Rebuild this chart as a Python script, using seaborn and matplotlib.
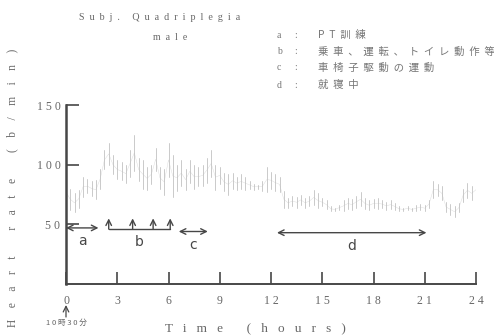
import numpy as np
import pandas as pd
import matplotlib.pyplot as plt
import seaborn as sns

# =========================
# DADOS
# =========================

step_hours = 0.25

hr_low = [70, 62, 60, 64, 73, 76, 74, 71,
          80, 96, 100, 92, 88, 87, 85, 90,
          95, 86, 80, 79, 84, 95, 80, 75,
          90, 73, 78, 82, 79, 85, 80, 82,
          82, 85, 90, 79, 84, 78, 75, 80,
          79, 80, 79, 80, 79, 80, 78, 77,
          80, 78, 77, 64, 64, 65, 64, 66,
          64, 65, 66, 64, 65, 63, 61, 61,
          62, 61, 63, 62, 64, 65, 63, 62,
          64, 63, 64, 62, 63, 62, 61, 61,
          62, 61, 61, 62, 61, 64, 72, 74,
          70, 60, 58, 56, 60, 69, 72, 70,
          74]

hr_high = [84, 80, 76, 79, 90, 88, 86, 87,
           96, 112, 118, 108, 104, 102, 100, 112,
           125, 106, 104, 98, 100, 114, 98, 96,
           118, 108, 100, 104, 96, 104, 100, 98,
           100, 106, 112, 100, 98, 93, 92, 93,
           90, 92, 90, 86, 84, 83, 86, 98,
           94, 92, 90, 78, 72, 74, 73, 75,
           72, 74, 79, 76, 72, 70, 65, 64,
           66, 70, 72, 71, 74, 77, 72, 70,
           71, 72, 70, 69, 70, 68, 65, 64,
           65, 64, 66, 67, 66, 70, 86, 84,
           82, 69, 67, 65, 68, 80, 85, 82,
           84]

x_ticks = [0, 3, 6, 9, 12, 15, 18, 21, 24]
x_tick_labels = ["0", "3", "6", "9", "1 2", "1 5", "1 8", "2 1", "2 4"]
y_ticks = [50, 100, 150]
y_tick_labels = ["5 0", "1 0 0", "1 5 0"]

activity_keys = ["a", "b", "c", "d"]
activity_text = ["PT訓練", "乗車、運転、トイレ動作等", "車椅子駆動の運動", "就寝中"]
activity_start = [0, 2.5, 6.6, 12.35]
activity_end = [1.9, 6.1, 8.3, 21.1]
b_marks = [2.5, 3.9, 5.1, 6.1]

hours = np.arange(len(hr_low)) * step_hours
df = pd.DataFrame({
    "hour": np.concatenate([hours, hours]),
    "hr": hr_low + hr_high,
})


def spaced(s, sep=" "):
    return sep.join(list(s))


# =========================
# FIGURA
# =========================

sns.set_style("white")
plt.rcParams["font.family"] = ["Liberation Serif", "Noto Sans CJK JP", "DejaVu Sans"]

W, H = 494, 336
fig = plt.figure(figsize=(W / 100, H / 100), dpi=100)
ax = fig.add_axes([66 / W, 1 - 284 / H, 410 / W, 179 / H])

ink = "#474747"

sns.lineplot(
    data=df, x="hour", y="hr",
    estimator="mean", errorbar=("pi", 100), err_style="bars",
    color="#d0d0d0", linewidth=0.3, alpha=0.8,
    err_kws={"elinewidth": 0.7, "ecolor": "#bdbdbd"},
    ax=ax,
)

ax.set_xlim(0, 24)
ax.set_ylim(0, 150)
ax.set_xticks(x_ticks)
ax.set_xticklabels(x_tick_labels)
ax.set_yticks(y_ticks)
ax.set_yticklabels(y_tick_labels)
ax.tick_params(axis="x", bottom=True, direction="in", length=9, width=1.2,
               color=ink, labelsize=8.5, labelcolor="#666", pad=8)
ax.tick_params(axis="y", left=True, direction="in", length=9, width=1.2,
               color=ink, labelsize=8.5, labelcolor="#666", pad=4)
ax.set_xlabel("")
ax.set_ylabel("")

for side in ["top", "right"]:
    ax.spines[side].set_visible(False)
ax.spines["left"].set_color(ink)
ax.spines["left"].set_linewidth(1.8)
ax.spines["bottom"].set_color(ink)
ax.spines["bottom"].set_linewidth(1.4)

# flechas das actividades
arrow_level = [47, 46, 44, 43]
for i, key in enumerate(activity_keys):
    y0 = arrow_level[i]
    if key == "b":
        ax.plot([activity_start[i], activity_end[i]], [y0, y0], color=ink, lw=1,
                clip_on=False)
        for m in b_marks:
            ax.annotate("", xy=(m, y0 + 9), xytext=(m, y0),
                        arrowprops=dict(arrowstyle="->", color=ink, lw=1,
                                        shrinkA=0, shrinkB=0),
                        annotation_clip=False)
    else:
        ax.annotate("", xy=(activity_end[i], y0), xytext=(activity_start[i], y0),
                    arrowprops=dict(arrowstyle="<->", color=ink, lw=1,
                                    shrinkA=0, shrinkB=0),
                    annotation_clip=False)
    mid = (activity_start[i] + activity_end[i]) / 2
    ax.text(mid, y0 - 11, key, ha="center", va="center", fontsize=10,
            color=ink, family=["DejaVu Sans"])


def ftext(x, y, s, **kw):
    fig.text(x / W, 1 - y / H, s, **kw)


# títulos
ftext(160, 17, spaced("Subj. Quadriplegia", "  "), ha="center", va="center",
      fontsize=7.2, color="#666")
ftext(170, 38, spaced("male", "  "), ha="center", va="center", fontsize=7,
      color="#666")

# legenda
leg_y = [35, 52, 68, 85]
for key, txt, yy in zip(activity_keys, activity_text, leg_y):
    ftext(279, yy, key, ha="center", va="center", fontsize=7, color="#777")
    ftext(296, yy, ":", ha="center", va="center", fontsize=7, color="#777")
    ftext(318, yy, spaced(txt, "  "), ha="left", va="center", fontsize=7.5,
          color="#777", family=["Noto Sans CJK JP", "DejaVu Sans"])

# eixos
ftext(12, 188, spaced("Heart rate (b/min)", "    "), ha="center", va="center",
      rotation=90, fontsize=8.3, color="#666")
ftext(255, 322, spaced("Time (hours)", "   "), ha="center", va="top",
      fontsize=9.5, color="#666")

# hora de início
ax.annotate("", xy=(66 / W, 1 - 305 / H), xytext=(66 / W, 1 - 317 / H),
            xycoords="figure fraction",
            arrowprops=dict(arrowstyle="->", color=ink, lw=0.9,
                            shrinkA=0, shrinkB=0))
ftext(66, 323, spaced("10時30分"), ha="center", va="center", fontsize=5.5,
      color="#666", family=["Noto Sans CJK JP", "DejaVu Sans"])

fig.savefig("out.png", dpi=100, facecolor="white")
